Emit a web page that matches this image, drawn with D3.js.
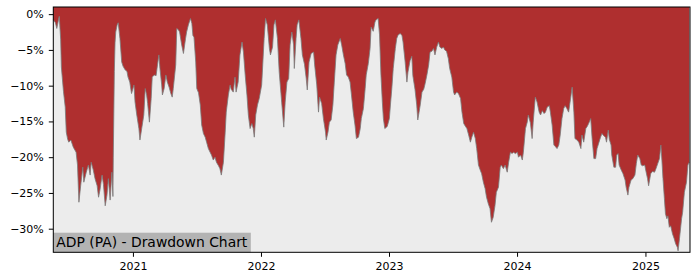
<!DOCTYPE html>
<html>
<head>
<meta charset="utf-8">
<script src="https://cdn.jsdelivr.net/npm/d3@7"></script>
<style>
  body { margin: 0; background: #fff; }
  svg { display: block; font-family: "DejaVu Sans", sans-serif; }
</style>
</head>
<body>
<script>

// drawdown in percent
var dd2020 = [
    ['2020-05-19', -0.8], ['2020-05-25', -1.2], ['2020-05-29', -2.0], ['2020-06-04', -0.5],
    ['2020-06-05', -0.3], ['2020-06-09', -3.5], ['2020-06-11', -7.4], ['2020-06-17', -10.8],
    ['2020-06-22', -13.0], ['2020-06-25', -16.5], ['2020-06-29', -17.5], ['2020-07-02', -17.9],
    ['2020-07-08', -17.6], ['2020-07-15', -18.6], ['2020-07-23', -19.3], ['2020-07-27', -21.1],
    ['2020-07-31', -26.3], ['2020-08-05', -24.0], ['2020-08-11', -21.4], ['2020-08-14', -23.5],
    ['2020-08-21', -22.1], ['2020-08-27', -21.1], ['2020-09-01', -22.5], ['2020-09-04', -20.7],
    ['2020-09-10', -21.8], ['2020-09-15', -23.0], ['2020-09-21', -24.0], ['2020-09-25', -25.6],
    ['2020-09-29', -24.6], ['2020-10-05', -22.5], ['2020-10-09', -23.8], ['2020-10-14', -26.8],
    ['2020-10-19', -25.3], ['2020-10-23', -23.0], ['2020-10-28', -26.0], ['2020-11-02', -22.1],
    ['2020-11-05', -25.5], ['2020-11-06', -20.0], ['2020-11-09', -8.0], ['2020-11-11', -4.0],
    ['2020-11-13', -2.5], ['2020-11-17', -1.5], ['2020-11-20', -1.2], ['2020-11-25', -3.4],
    ['2020-11-30', -6.7], ['2020-12-04', -7.3], ['2020-12-10', -7.8], ['2020-12-15', -8.0],
    ['2020-12-18', -8.8], ['2020-12-23', -9.5], ['2020-12-28', -11.1]
];

var dd2021 = [
    ['2021-01-04', -9.9], ['2021-01-07', -12.3], ['2021-01-12', -14.1], ['2021-01-18', -16.0],
    ['2021-01-21', -17.6], ['2021-01-26', -16.0], ['2021-02-01', -14.1], ['2021-02-05', -10.4],
    ['2021-02-09', -11.3], ['2021-02-12', -12.5], ['2021-02-17', -15.1], ['2021-02-22', -11.8],
    ['2021-02-25', -8.8], ['2021-03-03', -8.5], ['2021-03-08', -8.6], ['2021-03-12', -7.1],
    ['2021-03-16', -5.7], ['2021-03-19', -7.6], ['2021-03-24', -9.9], ['2021-03-26', -11.3],
    ['2021-03-31', -10.4], ['2021-04-05', -8.5], ['2021-04-09', -9.5], ['2021-04-14', -10.2],
    ['2021-04-19', -11.1], ['2021-04-23', -11.6], ['2021-04-26', -10.4], ['2021-05-03', -7.1],
    ['2021-05-06', -2.0], ['2021-05-11', -2.2], ['2021-05-14', -2.5], ['2021-05-20', -4.3],
    ['2021-05-25', -5.5], ['2021-05-31', -3.4], ['2021-06-03', -2.5], ['2021-06-08', -1.5],
    ['2021-06-14', -0.6], ['2021-06-18', -1.3], ['2021-06-21', -3.0], ['2021-06-24', -3.2],
    ['2021-06-29', -6.7], ['2021-07-02', -10.4], ['2021-07-07', -11.0], ['2021-07-12', -12.7],
    ['2021-07-16', -15.5], ['2021-07-21', -16.7], ['2021-07-26', -17.2], ['2021-07-30', -17.9],
    ['2021-08-04', -18.8], ['2021-08-09', -19.3], ['2021-08-13', -19.7], ['2021-08-18', -20.4],
    ['2021-08-23', -20.0], ['2021-08-27', -20.7], ['2021-09-02', -21.2], ['2021-09-06', -21.6],
    ['2021-09-10', -22.5], ['2021-09-16', -20.7], ['2021-09-21', -16.5], ['2021-09-24', -13.7],
    ['2021-09-30', -11.3], ['2021-10-05', -9.9], ['2021-10-08', -10.5], ['2021-10-14', -10.9],
    ['2021-10-19', -8.8], ['2021-10-22', -10.9], ['2021-10-28', -9.5], ['2021-11-02', -5.7],
    ['2021-11-08', -3.9], ['2021-11-12', -5.3], ['2021-11-17', -8.5], ['2021-11-22', -11.3],
    ['2021-11-26', -14.1], ['2021-12-01', -16.0], ['2021-12-06', -15.3], ['2021-12-10', -16.0],
    ['2021-12-13', -17.2], ['2021-12-17', -14.1], ['2021-12-22', -12.7], ['2021-12-27', -11.8]
];

var dd2022 = [
    ['2022-01-03', -9.9], ['2022-01-06', -7.1], ['2022-01-10', -3.4], ['2022-01-14', -0.6],
    ['2022-01-19', -1.5], ['2022-01-25', -4.8], ['2022-01-28', -5.7], ['2022-02-03', -4.6],
    ['2022-02-07', -1.5], ['2022-02-11', -0.8], ['2022-02-17', -3.4], ['2022-02-22', -8.1],
    ['2022-03-01', -12.3], ['2022-03-07', -15.8], ['2022-03-11', -12.3], ['2022-03-16', -9.5],
    ['2022-03-21', -9.0], ['2022-03-25', -4.3], ['2022-03-30', -2.5], ['2022-04-04', -4.3],
    ['2022-04-06', -7.6], ['2022-04-11', -3.4], ['2022-04-14', -1.5], ['2022-04-19', -0.8],
    ['2022-04-25', -3.4], ['2022-04-29', -5.7], ['2022-05-05', -7.0], ['2022-05-10', -9.0],
    ['2022-05-13', -10.6], ['2022-05-18', -6.7], ['2022-05-24', -5.5], ['2022-05-31', -5.3],
    ['2022-06-03', -7.1], ['2022-06-09', -9.9], ['2022-06-14', -13.7], ['2022-06-17', -11.6],
    ['2022-06-23', -12.5], ['2022-06-28', -14.6], ['2022-07-04', -16.5], ['2022-07-06', -17.6],
    ['2022-07-11', -16.5], ['2022-07-15', -15.1], ['2022-07-20', -14.8], ['2022-07-25', -12.7],
    ['2022-07-29', -9.5], ['2022-08-03', -5.7], ['2022-08-08', -4.3], ['2022-08-15', -3.4],
    ['2022-08-19', -4.3], ['2022-08-24', -5.7], ['2022-08-29', -6.9], ['2022-09-02', -8.5],
    ['2022-09-07', -8.8], ['2022-09-12', -9.5], ['2022-09-16', -11.3], ['2022-09-21', -13.7],
    ['2022-09-26', -15.5], ['2022-09-30', -17.4], ['2022-10-06', -17.2], ['2022-10-11', -16.0],
    ['2022-10-14', -14.6], ['2022-10-20', -13.2], ['2022-10-25', -10.4], ['2022-10-28', -8.5],
    ['2022-11-03', -6.9], ['2022-11-08', -4.8], ['2022-11-11', -1.8], ['2022-11-17', -2.4],
    ['2022-11-22', -1.1], ['2022-11-25', -0.8], ['2022-12-01', -0.6], ['2022-12-05', -2.9],
    ['2022-12-09', -8.5], ['2022-12-13', -12.3], ['2022-12-16', -14.6], ['2022-12-20', -16.0],
    ['2022-12-27', -15.7]
];

var dd2023 = [
    ['2023-01-02', -14.6], ['2023-01-05', -12.7], ['2023-01-09', -10.4], ['2023-01-13', -7.6],
    ['2023-01-19', -4.8], ['2023-01-23', -3.4], ['2023-01-27', -2.9], ['2023-02-02', -2.7],
    ['2023-02-07', -3.0], ['2023-02-10', -3.9], ['2023-02-16', -6.7], ['2023-02-21', -9.5],
    ['2023-02-24', -8.1], ['2023-03-02', -6.5], ['2023-03-07', -5.9], ['2023-03-10', -8.6],
    ['2023-03-16', -10.5], ['2023-03-21', -12.7], ['2023-03-24', -14.8], ['2023-03-31', -12.7],
    ['2023-04-05', -10.9], ['2023-04-10', -10.5], ['2023-04-14', -9.7], ['2023-04-19', -8.5],
    ['2023-04-24', -7.1], ['2023-04-28', -5.3], ['2023-05-03', -5.2], ['2023-05-08', -4.8],
    ['2023-05-12', -5.7], ['2023-05-17', -4.6], ['2023-05-22', -3.9], ['2023-05-26', -4.6],
    ['2023-06-01', -4.8], ['2023-06-05', -4.6], ['2023-06-09', -5.0], ['2023-06-14', -5.2],
    ['2023-06-19', -6.2], ['2023-06-23', -7.6], ['2023-06-29', -8.8], ['2023-07-04', -10.9],
    ['2023-07-07', -11.3], ['2023-07-13', -10.9], ['2023-07-18', -11.1], ['2023-07-24', -11.8],
    ['2023-07-28', -13.7], ['2023-08-02', -15.3], ['2023-08-07', -15.7], ['2023-08-11', -16.0],
    ['2023-08-16', -16.9], ['2023-08-21', -17.9], ['2023-08-25', -17.2], ['2023-08-30', -16.5],
    ['2023-09-04', -17.4], ['2023-09-08', -18.8], ['2023-09-13', -21.1], ['2023-09-18', -21.8],
    ['2023-09-22', -22.3], ['2023-09-27', -23.5], ['2023-10-02', -24.4], ['2023-10-06', -25.6],
    ['2023-10-11', -26.5], ['2023-10-16', -27.2], ['2023-10-20', -29.1], ['2023-10-25', -28.4],
    ['2023-10-30', -26.8], ['2023-11-03', -24.9], ['2023-11-09', -24.2], ['2023-11-14', -21.4],
    ['2023-11-17', -21.1], ['2023-11-23', -21.6], ['2023-11-28', -21.1], ['2023-12-04', -22.1],
    ['2023-12-08', -20.7], ['2023-12-13', -19.3], ['2023-12-18', -19.5], ['2023-12-22', -19.3],
    ['2023-12-27', -19.5]
];

var dd2024 = [
    ['2024-01-02', -19.3], ['2024-01-05', -20.0], ['2024-01-11', -19.7], ['2024-01-16', -20.4],
    ['2024-01-19', -19.3], ['2024-01-25', -16.0], ['2024-01-30', -15.1], ['2024-02-02', -14.1],
    ['2024-02-08', -15.2], ['2024-02-13', -17.4], ['2024-02-16', -15.1], ['2024-02-22', -11.6],
    ['2024-02-27', -12.3], ['2024-03-04', -13.7], ['2024-03-08', -14.1], ['2024-03-13', -13.5],
    ['2024-03-18', -13.9], ['2024-03-22', -13.7], ['2024-03-27', -13.0], ['2024-04-02', -12.8],
    ['2024-04-05', -13.7], ['2024-04-10', -15.5], ['2024-04-15', -18.3], ['2024-04-19', -18.5],
    ['2024-04-24', -18.8], ['2024-04-29', -18.3], ['2024-05-03', -16.9], ['2024-05-08', -14.6],
    ['2024-05-13', -13.2], ['2024-05-17', -12.8], ['2024-05-22', -13.2], ['2024-05-27', -13.7],
    ['2024-06-03', -11.3], ['2024-06-06', -10.2], ['2024-06-11', -13.7], ['2024-06-14', -17.4],
    ['2024-06-20', -17.6], ['2024-06-25', -17.9], ['2024-07-01', -18.8], ['2024-07-04', -16.9],
    ['2024-07-09', -17.9], ['2024-07-15', -16.0], ['2024-07-19', -15.7], ['2024-07-23', -15.3],
    ['2024-07-29', -14.6], ['2024-08-02', -17.4], ['2024-08-07', -20.2], ['2024-08-12', -20.2],
    ['2024-08-16', -18.8], ['2024-08-21', -18.0], ['2024-08-26', -17.2], ['2024-08-30', -16.7],
    ['2024-09-04', -17.0], ['2024-09-09', -17.2], ['2024-09-12', -17.9], ['2024-09-17', -16.2],
    ['2024-09-20', -17.5], ['2024-09-25', -18.3], ['2024-09-27', -19.7], ['2024-10-03', -21.4],
    ['2024-10-08', -21.4], ['2024-10-11', -19.7], ['2024-10-15', -19.5], ['2024-10-18', -21.1],
    ['2024-10-24', -21.8], ['2024-10-29', -22.3], ['2024-11-04', -23.2], ['2024-11-07', -24.2],
    ['2024-11-12', -25.3], ['2024-11-15', -24.2], ['2024-11-21', -23.2], ['2024-11-26', -23.0],
    ['2024-12-02', -22.5], ['2024-12-06', -20.9], ['2024-12-10', -19.7], ['2024-12-16', -20.2],
    ['2024-12-20', -21.1], ['2024-12-24', -21.2], ['2024-12-30', -21.1]
];

var dd2025 = [
    ['2025-01-03', -22.1], ['2025-01-07', -23.0], ['2025-01-10', -24.0], ['2025-01-16', -22.3],
    ['2025-01-21', -22.0], ['2025-01-27', -22.1], ['2025-01-31', -21.6], ['2025-02-05', -20.9],
    ['2025-02-10', -20.2], ['2025-02-14', -18.3], ['2025-02-17', -20.5], ['2025-02-20', -23.0],
    ['2025-02-24', -25.8], ['2025-02-27', -27.9], ['2025-03-03', -28.6], ['2025-03-06', -28.2],
    ['2025-03-10', -29.8], ['2025-03-14', -29.6], ['2025-03-19', -30.7], ['2025-03-24', -31.4],
    ['2025-03-28', -32.1], ['2025-04-02', -32.6], ['2025-04-04', -33.1], ['2025-04-08', -31.4],
    ['2025-04-14', -28.6], ['2025-04-17', -27.7], ['2025-04-22', -24.9], ['2025-04-28', -23.5],
    ['2025-05-02', -21.1], ['2025-05-06', -20.7]
];

var yTicks = [0, -5, -10, -15, -20, -25, -30];
var xTickYears = [2021, 2022, 2023, 2024, 2025];
var title = 'ADP (PA) - Drawdown Chart';

var parseDate = d3.timeParse('%Y-%m-%d');

var dataset = [].concat(dd2020, dd2021, dd2022, dd2023, dd2024, dd2025).map(function(d) {
    return { date: parseDate(d[0]), value: d[1] };
});

// Set the dimensions of the canvas / graph
var margin = {top: 7, right: 10, bottom: 27.7, left: 53.3},
    width = 700 - margin.left - margin.right,
    height = 280 - margin.top - margin.bottom;

var x = d3.scaleTime()
    .domain([parseDate('2020-05-19'), parseDate('2025-05-08')])
    .range([0, width]);
var y = d3.scaleLinear()
    .domain([-33.3, 1.0])
    .range([height, 0]);

var svg = d3.select('body').append('svg')
    .attr('width', 700)
    .attr('height', 280);

var focus = svg.append('g')
    .attr('transform', 'translate(' + margin.left + ',' + margin.top + ')');

// plot background
focus.append('rect')
    .attr('width', width)
    .attr('height', height)
    .attr('fill', '#ececec');

// red area from the top of the plot down to the drawdown
var area = d3.area()
    .x(function(d) { return x(d.date); })
    .y0(0)
    .y1(function(d) { return y(d.value); });

focus.append('path')
    .datum(dataset)
    .attr('d', area)
    .attr('fill', '#af2f2f');

var line = d3.line()
    .x(function(d) { return x(d.date); })
    .y(function(d) { return y(d.value); });

focus.append('path')
    .datum(dataset)
    .attr('d', line)
    .attr('fill', 'none')
    .attr('stroke', '#7a7a7a')
    .attr('stroke-width', 1)
    .attr('stroke-opacity', 0.8);

// axes
var yAxis = d3.axisLeft(y)
    .tickValues(yTicks)
    .tickSize(4.5)
    .tickPadding(5)
    .tickFormat(function(d) { return d3.format('d')(d) + '%'; });

var xAxis = d3.axisBottom(x)
    .tickValues(xTickYears.map(function(yr) { return new Date(yr, 0, 1); }))
    .tickSize(4.5)
    .tickPadding(5)
    .tickFormat(d3.timeFormat('%Y'));

var gy = focus.append('g')
    .attr('class', 'axis axis--y')
    .call(yAxis);

var gx = focus.append('g')
    .attr('class', 'axis axis--x')
    .attr('transform', 'translate(0,' + height + ')')
    .call(xAxis);

[gx, gy].forEach(function(g) {
    g.select('.domain').remove();
    g.selectAll('line').attr('stroke', '#000').attr('stroke-width', 1);
    g.selectAll('text')
        .attr('fill', '#000')
        .style('font-family', '"DejaVu Sans", sans-serif')
        .style('font-size', '11px');
});

// label box bottom left
var label = focus.append('g');
var labelText = label.append('text')
    .attr('x', 3)
    .attr('y', height - 5.8)
    .attr('fill', '#000')
    .style('font-family', '"DejaVu Sans", sans-serif')
    .style('font-size', '13.9px')
    .text(title);
var tw = labelText.node().getComputedTextLength();
label.insert('rect', 'text')
    .attr('x', 0)
    .attr('y', height - 19.6)
    .attr('width', tw + 6.5)
    .attr('height', 19.6)
    .attr('fill', '#b3b3b3');

// frame
focus.append('rect')
    .attr('width', width)
    .attr('height', height)
    .attr('fill', 'none')
    .attr('stroke', '#000')
    .attr('stroke-width', 1);

</script>
</body>
</html>
